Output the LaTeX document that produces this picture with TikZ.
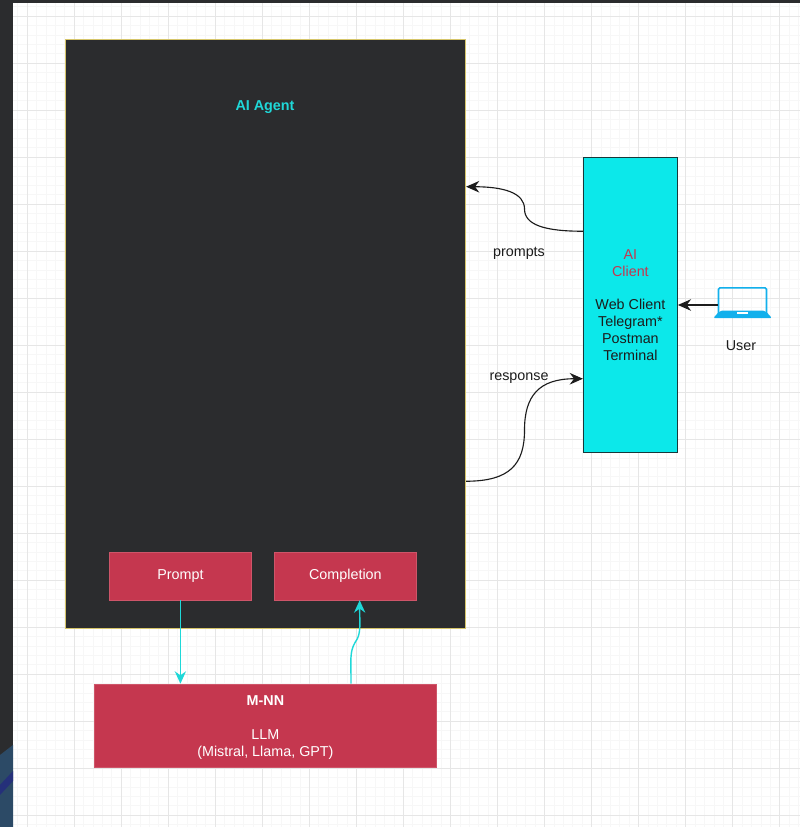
\documentclass[tikz,border=0pt]{standalone}
\usepackage{fontspec}
\setmainfont{Liberation Sans}
\usetikzlibrary{arrows.meta,calc}
\definecolor{ink}{HTML}{1C1C1C}
\definecolor{frame}{HTML}{2B2C2E}
\definecolor{wallpaper}{HTML}{2C4A66}
\definecolor{wallstreak}{HTML}{25307A}
\definecolor{gridmajor}{HTML}{E6E6E6}
\definecolor{gridminor}{HTML}{F7F7F7}
\definecolor{agent}{HTML}{2B2C2E}
\definecolor{agentline}{HTML}{D6C56A}
\definecolor{client}{HTML}{0CE8EA}
\definecolor{clientline}{HTML}{17383A}
\definecolor{model}{HTML}{C5374F}
\definecolor{accent}{HTML}{1FD8D8}
\definecolor{laptop}{HTML}{12B0EC}

\begin{document}
\begin{tikzpicture}[
  font=\fontsize{10.2}{12}\selectfont, text=ink,
  flow/.style={-{Stealth[length=3.3mm,width=2.9mm]},draw=ink,line width=.8pt},
  wire/.style={-{Stealth[length=3.1mm,width=2.8mm]},draw=accent,line width=1pt},
  block/.style={draw=model!85!white,fill=model,text=white,line width=.4pt,align=center,inner sep=0pt},
  small/.style={text=ink,align=center}
]
\useasboundingbox (0,0) rectangle (20,20.675);
% Canvas grid and the window edge around it.
\fill[white] (0,0) rectangle (20,20.675);
\foreach \i in {0,...,85}
  \draw[gridminor,line width=.4pt] ({-.03+\i*.2352},0) -- ({-.03+\i*.2352},20.675);
\foreach \i in {0,...,88}
  \draw[gridminor,line width=.4pt] (0,{.065+\i*.235}) -- (20,{.065+\i*.235});
\foreach \i in {0,...,16}
  \draw[gridmajor,line width=.5pt] ({.675+\i*1.176},0) -- ({.675+\i*1.176},20.675);
\foreach \i in {0,...,17}
  \draw[gridmajor,line width=.5pt] (0,{.3+\i*1.175}) -- (20,{.3+\i*1.175});
\fill[frame] (0,20.6) rectangle (20,20.675);
\fill[frame] (0,0) rectangle (.325,20.675);
\fill[wallpaper] (0,0) -- (0,1.8) -- (.325,2.05) -- (.325,0) -- cycle;
\fill[wallstreak] (0,1.05) -- (.325,1.4) -- (.325,1.15) -- (0,.8) -- cycle;
% Main boxes.
\node[draw=agentline,fill=agent,line width=.7pt,minimum width=10cm,minimum height=14.7cm] (agentbox) at (6.64,12.325) {};
\node[font=\bfseries\fontsize{10.2}{12}\selectfont,text=accent] (agentlabel) at (6.625,18) {AI Agent};
\node[block,minimum width=3.55cm,minimum height=1.2cm] (prompt) at (4.51,6.275) {Prompt};
\node[block,minimum width=3.55cm,minimum height=1.2cm] (completion) at (8.635,6.275) {Completion};
\node[block,minimum width=8.55cm,minimum height=2.075cm] (mnn) at (6.635,2.5375)
  {\rule{0pt}{10pt}\textbf{M-NN}\\[12pt]LLM\\(Mistral, Llama, GPT)};
\node[draw=clientline,fill=client,line width=.7pt,align=center,minimum width=2.35cm,minimum height=7.35cm,inner sep=0pt] (clientbox) at (15.76,13.05)
  {\textcolor{model}{AI}\\\textcolor{model}{Client}\\[12pt]Web Client\\Telegram*\\Postman\\Terminal};
% Laptop icon with its caption.
\node[draw=laptop,line width=1.1pt,rounded corners=1pt,minimum width=1.2cm,minimum height=.72cm,inner sep=0pt] (laptopicon) at (18.5625,13.12) {};
\fill[laptop,rounded corners=1.5pt] (17.83,12.72) -- (18.0,12.91) -- (19.13,12.91) -- (19.3,12.72) -- cycle;
\fill[white] (18.42,12.82) rectangle (18.7,12.87);
\node[small] (user) at (18.525,12.03) {User};
\node[small] (promptslabel) at (12.975,14.35) {prompts};
\node[small] (responselabel) at (12.975,11.23) {response};
% Curved links between agent and client, then the model links.
\coordinate (promptsout) at ($(clientbox.north west)!.25!(clientbox.south west)$);
\coordinate (promptsin) at ($(agentbox.north east)!.25!(agentbox.south east)$);
\coordinate (responseout) at ($(agentbox.north east)!.75!(agentbox.south east)$);
\coordinate (responsein) at ($(clientbox.north west)!.75!(clientbox.south west)$);
\coordinate (promptsmid) at ($(promptsout)!.5!(promptsin)$);
\coordinate (responsemid) at ($(responseout)!.5!(responsein)$);
\draw[flow] (promptsout) .. controls +(-.95,0) and +(0,-.4) .. (promptsmid)
  .. controls +(0,.4) and +(.95,0) .. (promptsin);
\draw[flow] (responseout) .. controls +(1.1,0) and +(0,-.85) .. (responsemid)
  .. controls +(0,.85) and +(-1.1,0) .. (responsein);
\draw[flow] (laptopicon.west |- clientbox.east) -- (clientbox.east);
\coordinate (downin) at ($(mnn.north west)!.25!(mnn.north east)$);
\coordinate (upout) at ($(mnn.north west)!.75!(mnn.north east)$);
\coordinate (upin) at ($(completion.south west)!.6!(completion.south east)$);
\draw[wire] (prompt.south) -- (prompt.south |- downin);
\draw[wire] (upout) .. controls +(0,.6) and +(-.15,-.25) .. ($(upout)!.5!(upin)$)
  .. controls +(.15,.2) and +(0,-.6) .. (upin);
\end{tikzpicture}
\end{document}
